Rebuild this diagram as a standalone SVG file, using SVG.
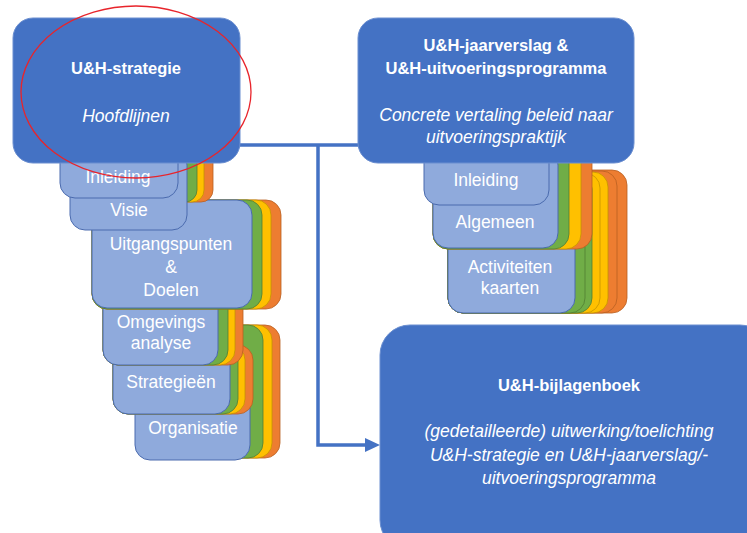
<svg xmlns="http://www.w3.org/2000/svg" width="747" height="533" viewBox="0 0 747 533">
<defs>
<style>
.box{fill:#4472C4;stroke:#6A8ED0;stroke-width:1}
.card{fill:#8FAADC;stroke:#4A6AAE;stroke-width:1}
.g{fill:#70AD47;stroke:#507E32;stroke-width:0.8}
.y{fill:#FFC000;stroke:#C49300;stroke-width:0.8}
.o{fill:#ED7D31;stroke:#B85F22;stroke-width:0.8}
.t{font-family:"Liberation Sans",Arial,sans-serif;fill:#FFFFFF;text-anchor:middle}
.b{font-weight:bold;font-size:16.5px}
.i{font-style:italic;font-size:17.5px}
.c{font-size:17.5px}
.conn{fill:none;stroke:#4472C4;stroke-width:3.5}
</style>
<marker id="arr" viewBox="0 0 15 14" refX="1" refY="7" markerWidth="15" markerHeight="14" markerUnits="userSpaceOnUse" orient="auto">
<path d="M0,0 L15,7 L0,14 z" fill="#4472C4"/>
</marker>
</defs>
<rect width="747" height="533" fill="#FFFFFF"/>

<g id="connectors">
<path class="conn" d="M238,145 H362"/>
<path class="conn" d="M318,145 V445 H366" marker-end="url(#arr)"/>
</g>

<!-- left stack, lower groups first -->
<g id="l-organisatie">
<rect class="o" x="200" y="325" width="80" height="133" rx="15"/>
<rect class="y" x="200" y="325" width="72" height="133" rx="15"/>
<rect class="g" x="200" y="325" width="63" height="133" rx="15"/>
<rect class="card" x="135" y="380" width="115" height="80" rx="15"/>
<text class="t c" x="193" y="434">Organisatie</text>
</g>
<g id="l-strategieen">
<rect class="o" x="113" y="345" width="140" height="69" rx="15"/>
<rect class="y" x="113" y="345" width="132" height="69" rx="15"/>
<rect class="g" x="113" y="345" width="125" height="69" rx="15"/>
<rect class="card" x="113" y="350" width="117" height="64" rx="15"/>
<text class="t c" x="171" y="388">Strategieën</text>
</g>
<g id="l-omgevings">
<rect class="o" x="103" y="290" width="140" height="75" rx="15"/>
<rect class="y" x="103" y="290" width="132" height="75" rx="15"/>
<rect class="g" x="103" y="290" width="125" height="75" rx="15"/>
<rect class="card" x="103" y="280" width="115" height="85" rx="15"/>
<text class="t c" x="161" y="328">Omgevings</text>
<text class="t c" x="161" y="349">analyse</text>
</g>
<g id="l-uitgangspunten">
<rect class="o" x="92" y="200" width="189" height="109" rx="15"/>
<rect class="y" x="92" y="200" width="179" height="109" rx="15"/>
<rect class="g" x="92" y="200" width="170" height="109" rx="15"/>
<rect class="card" x="92" y="200" width="160" height="108" rx="15"/>
<text class="t c" x="171" y="250">Uitgangspunten</text>
<text class="t c" x="171" y="273">&amp;</text>
<text class="t c" x="171" y="296">Doelen</text>
</g>
<g id="l-visie">
<rect class="o" x="70" y="140" width="143" height="62" rx="12"/>
<rect class="y" x="70" y="140" width="134" height="62" rx="12"/>
<rect class="g" x="70" y="140" width="127" height="62" rx="12"/>
<rect class="card" x="70" y="150" width="117" height="80" rx="15"/>
<text class="t c" x="129" y="216">Visie</text>
</g>
<g id="l-inleiding">
<rect class="card" x="60" y="130" width="118" height="68" rx="15"/>
<text class="t c" x="118" y="183">Inleiding</text>
</g>

<!-- right stack -->
<g id="r-activiteiten">
<rect class="o" x="448" y="170" width="179" height="143" rx="15"/>
<rect class="o" x="448" y="171" width="169" height="142" rx="15"/>
<rect class="y" x="448" y="172" width="160" height="141" rx="15"/>
<rect class="y" x="448" y="173" width="152" height="140" rx="15"/>
<rect class="g" x="448" y="174" width="144" height="139" rx="15"/>
<rect class="g" x="448" y="175" width="137" height="138" rx="15"/>
<rect class="card" x="448" y="200" width="127" height="113" rx="15"/>
<text class="t c" x="510" y="273">Activiteiten</text>
<text class="t c" x="510" y="294">kaarten</text>
</g>
<g id="r-algemeen">
<rect class="o" x="433" y="140" width="159" height="109" rx="15"/>
<rect class="y" x="433" y="140" width="148" height="109" rx="15"/>
<rect class="g" x="433" y="140" width="136" height="109" rx="15"/>
<rect class="card" x="433" y="150" width="125" height="98" rx="15"/>
<text class="t c" x="495" y="228">Algemeen</text>
</g>
<g id="r-inleiding">
<rect class="card" x="424" y="130" width="125" height="75" rx="15"/>
<text class="t c" x="486" y="186">Inleiding</text>
</g>

<g id="strategie">
<rect class="box" x="13" y="18" width="227" height="145" rx="20"/>
<text class="t b" x="126" y="74">U&amp;H-strategie</text>
<text class="t i" x="126" y="122">Hoofdlijnen</text>
</g>

<g id="jaarverslag">
<rect class="box" x="358" y="18" width="276" height="145" rx="20"/>
<text class="t b" x="496" y="51">U&amp;H-jaarverslag &amp;</text>
<text class="t b" x="496" y="74">U&amp;H-uitvoeringsprogramma</text>
<text class="t i" x="496" y="121">Concrete vertaling beleid naar</text>
<text class="t i" x="496" y="143">uitvoeringspraktijk</text>
</g>

<g id="bijlagenboek">
<rect class="box" x="380" y="325" width="390" height="225" rx="30"/>
<text class="t b" x="569" y="391">U&amp;H-bijlagenboek</text>
<text class="t i" x="569" y="437">(gedetailleerde) uitwerking/toelichting</text>
<text class="t i" x="569" y="461">U&amp;H-strategie en U&amp;H-jaarverslag/-</text>
<text class="t i" x="569" y="484">uitvoeringsprogramma</text>
</g>

<ellipse id="highlight" cx="136" cy="92" rx="115" ry="86" fill="none" stroke="#E8242B" stroke-width="1.3"/>
</svg>
